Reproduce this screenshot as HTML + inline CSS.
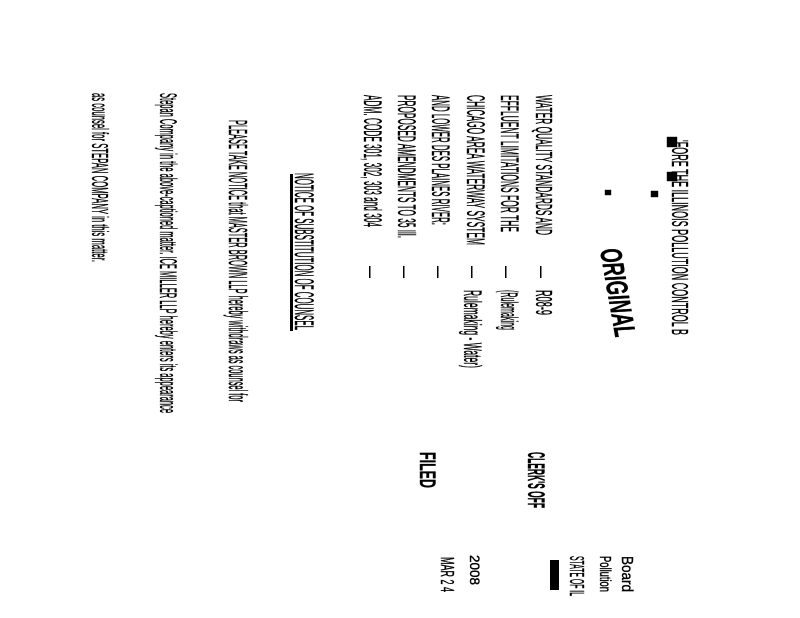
<!DOCTYPE html>
<html><head><meta charset="utf-8"><style>
html,body{margin:0;padding:0;background:#fff;width:800px;height:618px;overflow:hidden}
svg{display:block}
text{font-family:"Liberation Sans Narrow","Liberation Sans",sans-serif;fill:#000}
</style></head><body>
<svg width="800" height="618" viewBox="0 0 800 618" xmlns="http://www.w3.org/2000/svg">
<g font-size="22" stroke="#000" stroke-width="0.4">
<text transform="translate(672,140) rotate(90)" textLength="195" lengthAdjust="spacingAndGlyphs" font-size="23">'FORE THE ILLINOIS POLLUTION CONTROL B</text>
<rect x="667" y="137" width="10" height="10"/>
<rect x="667" y="172" width="10" height="9"/>
<text transform="translate(600,250) rotate(80)" font-size="30" font-weight="bold" font-style="italic" textLength="90" lengthAdjust="spacingAndGlyphs">ORIGINAL</text>
<rect x="651" y="191" width="7" height="6"/>
<rect x="605" y="190" width="6" height="5"/>

<text transform="translate(536,95) rotate(90)" textLength="140" lengthAdjust="spacingAndGlyphs" font-size="23">WATER QUALITY STANDARDS AND</text>
<text transform="translate(501,95) rotate(90)" textLength="137" lengthAdjust="spacingAndGlyphs" font-size="25">EFFLUENT LIMITATIONS FOR THE</text>
<text transform="translate(467,95) rotate(90)" textLength="150" lengthAdjust="spacingAndGlyphs" font-size="25">CHICAGO AREA WATERWAY SYSTEM</text>
<text transform="translate(432,95) rotate(90)" textLength="130" lengthAdjust="spacingAndGlyphs" font-size="25">AND LOWER DES PLAINES RIVER:</text>
<text transform="translate(398,95) rotate(90)" textLength="143" lengthAdjust="spacingAndGlyphs" font-size="25">PROPOSED AMENDMENTS TO 35 Ill.</text>
<text transform="translate(364,95) rotate(90)" textLength="132" lengthAdjust="spacingAndGlyphs" font-size="25">ADM. CODE 301, 302, 303 and 304</text>

<g fill="#000" stroke="none">
<rect x="540" y="266" width="1.5" height="12"/>
<rect x="505" y="266" width="1.5" height="12"/>
<rect x="471" y="266" width="1.5" height="12"/>
<rect x="437" y="266" width="1.5" height="12"/>
<rect x="403" y="266" width="1.5" height="12"/>
<rect x="369" y="266" width="1.5" height="12"/>
</g>

<text transform="translate(536,290) rotate(90)" textLength="25" lengthAdjust="spacingAndGlyphs" font-size="23">R08-9</text>
<text transform="translate(501,290) rotate(90)" textLength="40" lengthAdjust="spacingAndGlyphs" font-size="24">(Rulemaking</text>
<text transform="translate(464,290) rotate(90)" textLength="78" lengthAdjust="spacingAndGlyphs" font-size="25">Rulemaking - Water)</text>

<rect x="290" y="174" width="3" height="157" stroke="none"/>
<text transform="translate(295,173) rotate(90)" textLength="157" lengthAdjust="spacingAndGlyphs" font-size="27">NOTICE OF SUBSTITUTION OF COUNSEL</text>

<text transform="translate(229,120) rotate(90)" textLength="282" lengthAdjust="spacingAndGlyphs" font-size="26">PLEASE TAKE NOTICE that MASTER BROWN LLP hereby withdraws as counsel for</text>
<text transform="translate(160,93) rotate(90)" textLength="320" lengthAdjust="spacingAndGlyphs" font-size="24">Stepan Company in the above-captioned matter. ICE MILLER LLP hereby enters its appearance</text>
<text transform="translate(92,93) rotate(90)" textLength="169" lengthAdjust="spacingAndGlyphs" font-size="23">as counsel for STEPAN COMPANY in this matter.</text>

<text transform="translate(420,452) rotate(90)" textLength="36" lengthAdjust="spacingAndGlyphs" font-size="22" font-weight="bold">FILED</text>
<text transform="translate(528,452) rotate(90)" textLength="56" lengthAdjust="spacingAndGlyphs" font-size="24" font-weight="bold">CLERK'S OFF</text>
<text transform="translate(441,557) rotate(90)" textLength="35" lengthAdjust="spacingAndGlyphs" font-size="18">MAR 2 4</text>
<text transform="translate(470,555) rotate(90)" textLength="30" lengthAdjust="spacingAndGlyphs" font-size="14">2008</text>
<rect x="550" y="560" width="9" height="30" stroke="none"/>
<text transform="translate(570,556) rotate(90)" textLength="40" lengthAdjust="spacingAndGlyphs" font-size="20">STATE OF IL</text>
<text transform="translate(600,556) rotate(90)" textLength="36" lengthAdjust="spacingAndGlyphs" font-size="16">Pollution</text>
<text transform="translate(622,556) rotate(90)" textLength="36" lengthAdjust="spacingAndGlyphs" font-size="16">Board</text>
</g>
</svg>
</body></html>
